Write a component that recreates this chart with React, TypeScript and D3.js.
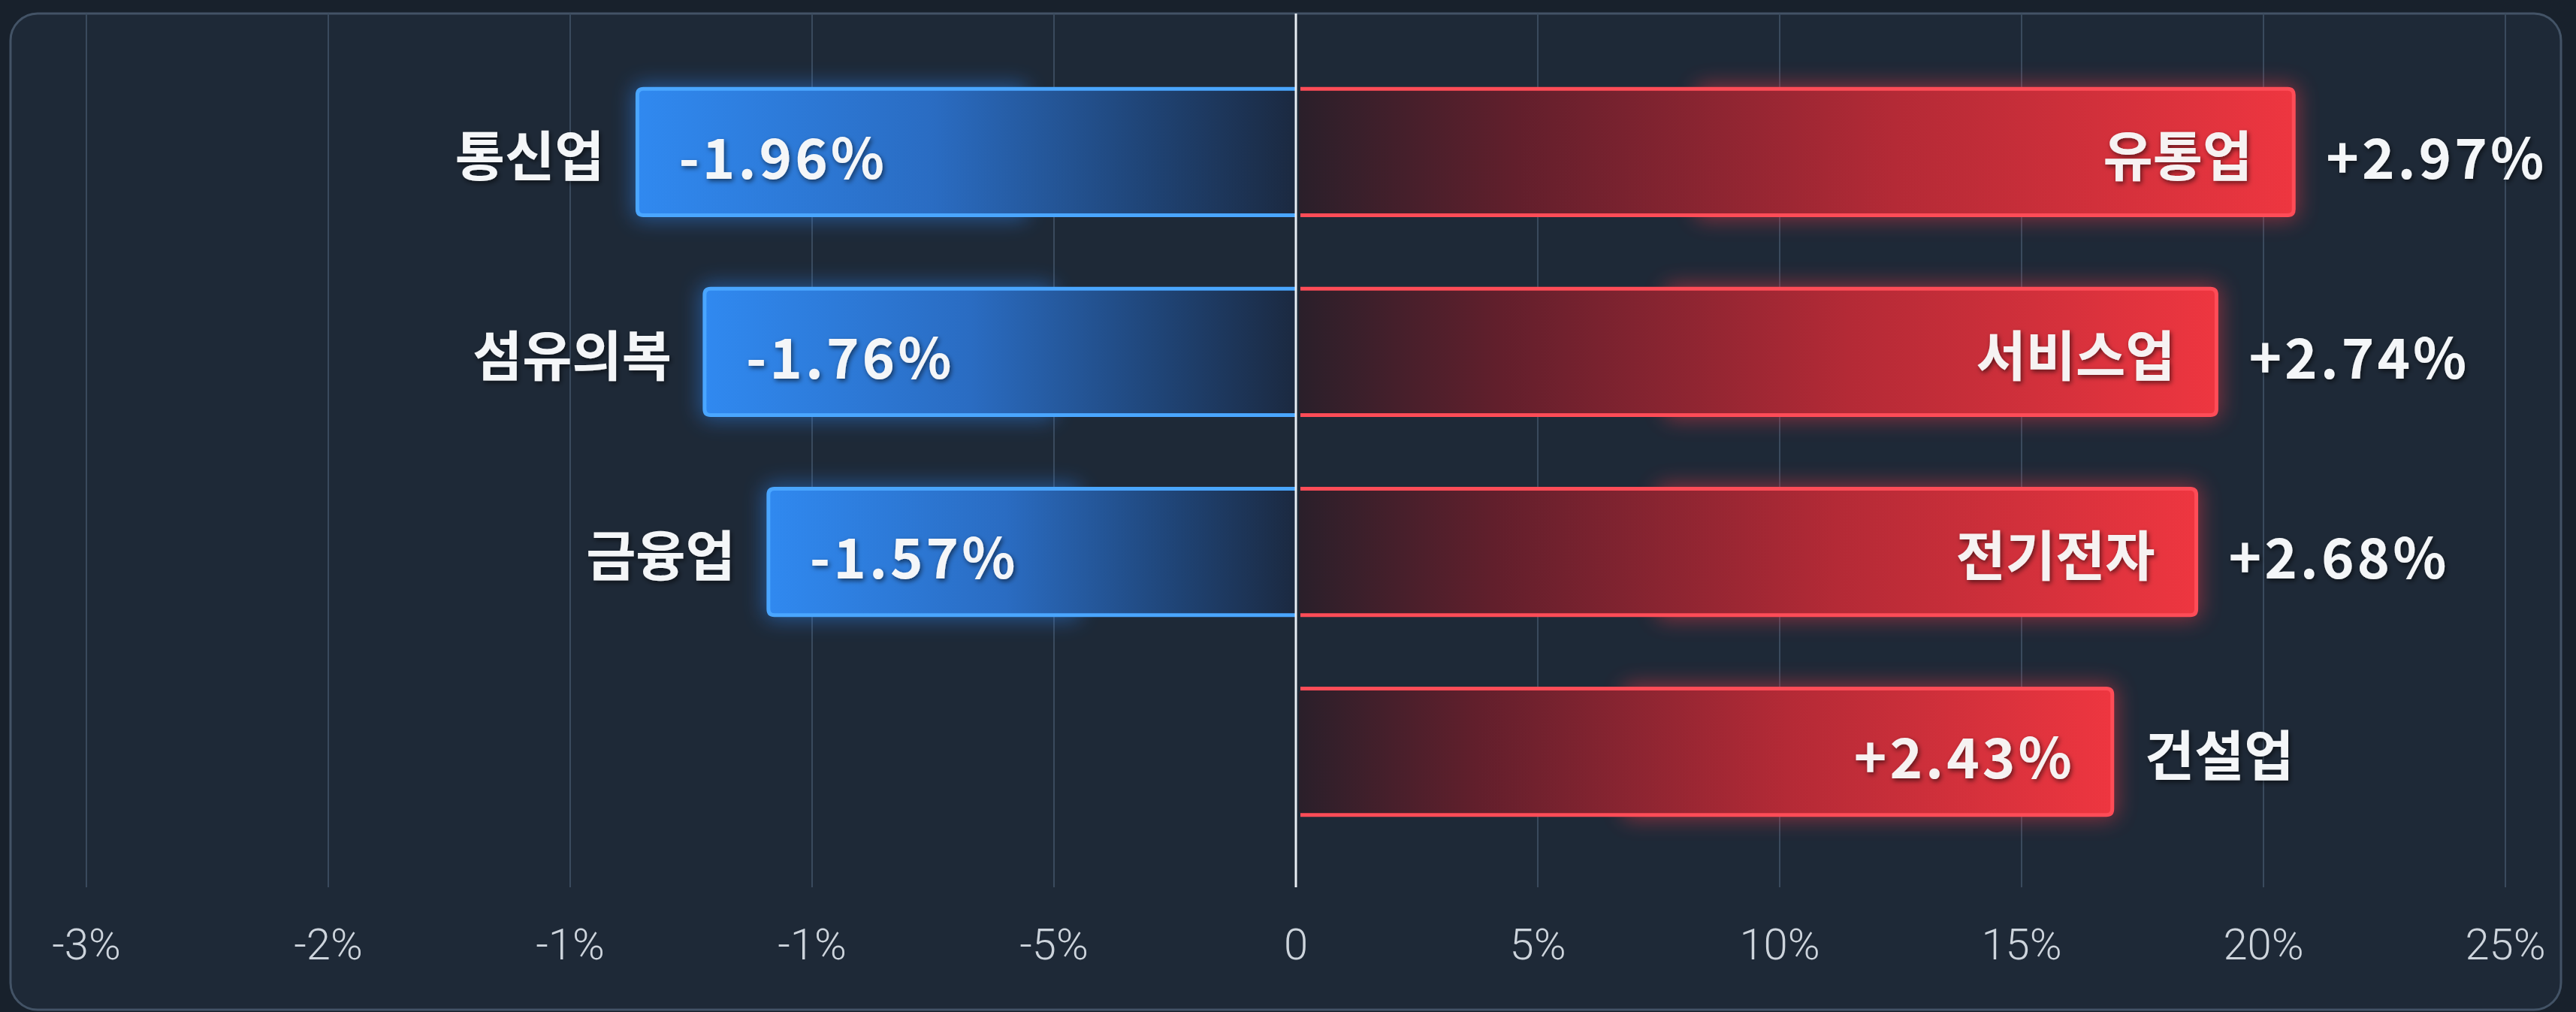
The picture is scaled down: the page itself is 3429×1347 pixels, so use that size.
import React from 'react';
import * as d3 from 'd3';

// sector changes (%)
const negCategories = ['통신업', '섬유의복', '금융업'];
const negValues = [-1.96, -1.76, -1.57];
const posCategories = ['유통업', '서비스업', '전기전자', '건설업'];
const posValues = [2.97, 2.74, 2.68, 2.43];
// axis labels exactly as printed on the original
const tickLabels = ['-3%', '-2%', '-1%', '-1%', '-5%', '0', '5%', '10%', '15%', '20%', '25%'];

const W = 3429;
const H = 1347;

const fmt = (v: number) => (v > 0 ? '+' : '-') + Math.abs(v).toFixed(2) + '%';

// bar outline open on the zero side, rounded on the outer end
const barOutline = (xa: number, xb: number, y: number, h: number, r: number) => {
  // xa = zero side, xb = outer end
  const s = xb > xa ? 1 : -1;
  return `M${xa},${y} L${xb - s * r},${y} Q${xb},${y} ${xb},${y + r} L${xb},${y + h - r} Q${xb},${y + h} ${xb - s * r},${y + h} L${xa},${y + h}`;
};

const App = () => {
  const xScale = d3.scaleLinear().domain([-3.6, 3.6]).range([115, 3335]);
  const tickScale = d3.scalePoint<number>().domain(tickLabels.map((_, i) => i)).range([115, 3335]);
  const yScale = d3
    .scaleBand<number>()
    .domain(d3.range(posCategories.length))
    .range([65, 1138])
    .paddingInner(0.368)
    .paddingOuter(0.2);

  const x0 = xScale(0);
  const bh = yScale.bandwidth();
  const gridTop = 18;
  const gridBottom = 1181;

  const korFont = '"Noto Sans CJK KR", "Noto Sans", sans-serif';

  const valueText = { fontFamily: korFont, fontWeight: 700, fontSize: 74, letterSpacing: 4 };
  const nameText = { fontFamily: korFont, fontWeight: 700, fontSize: 72, letterSpacing: 0 };

  return (
    <svg width={W} height={H} style={{ position: 'absolute', left: 0, top: 0, display: 'block' }}>
      <defs>
        <linearGradient id="blueFill" x1="0" x2="1" y1="0" y2="0">
          <stop offset="0" stopColor="#3089f0" />
          <stop offset="0.45" stopColor="#2a6cc2" />
          <stop offset="0.78" stopColor="#1f4374" />
          <stop offset="1" stopColor="#1b2940" />
        </linearGradient>
        <linearGradient id="redFill" x1="1" x2="0" y1="0" y2="0">
          <stop offset="0" stopColor="#ee3640" />
          <stop offset="0.4" stopColor="#b42a36" />
          <stop offset="0.78" stopColor="#621f2c" />
          <stop offset="1" stopColor="#2a1f2a" />
        </linearGradient>
        <filter id="glow" x="-20%" y="-60%" width="140%" height="220%">
          <feGaussianBlur stdDeviation="14" />
        </filter>
        <filter id="lineGlow" x="-5%" y="-300%" width="110%" height="700%">
          <feGaussianBlur stdDeviation="4" />
        </filter>
        <filter id="shadow" x="-10%" y="-30%" width="120%" height="160%">
          <feDropShadow dx="2" dy="3" stdDeviation="3" floodColor="#000" floodOpacity="0.55" />
        </filter>
      </defs>

      {/* background + panel */}
      <rect x={0} y={0} width={W} height={H} fill="#18212c" />
      <rect x={14} y={18} width={3395} height={1326} rx={36} fill="#1e2937" stroke="#435366" strokeWidth={3} />

      {/* grid lines */}
      {tickLabels.map((_, i) =>
        tickLabels[i] === '0' ? null : (
          <line
            key={'g' + i}
            x1={tickScale(i)}
            x2={tickScale(i)}
            y1={gridTop}
            y2={gridBottom}
            stroke="#3a4a5d"
            strokeWidth={2}
          />
        )
      )}

      {/* negative bars */}
      {negValues.map((v, i) => {
        const x = xScale(v);
        const y = yScale(i)!;
        const w = x0 - x;
        return (
          <g key={'n' + i}>
            <rect x={x - 6} y={y - 6} width={w * 0.6} height={bh + 12} rx={12} fill="#2f8cff" opacity={0.45} filter="url(#glow)" />
            <rect x={x} y={y} width={w} height={bh} rx={8} fill="url(#blueFill)" />
            <line x1={x + 8} x2={x0} y1={y} y2={y} stroke="#5ab4ff" strokeWidth={10} opacity={0.5} filter="url(#lineGlow)" />
            <line x1={x + 8} x2={x0} y1={y + bh} y2={y + bh} stroke="#5ab4ff" strokeWidth={10} opacity={0.5} filter="url(#lineGlow)" />
            <path d={barOutline(x0, x, y, bh, 8)} fill="none" stroke="#4aa6ff" strokeWidth={5} />
            <text
              x={x - 44}
              y={y + bh / 2}
              textAnchor="end"
              dominantBaseline="central"
              {...nameText}
              fill="#f4f6f8"
              filter="url(#shadow)"
            >
              {negCategories[i]}
            </text>
            <text
              x={x + 55}
              y={y + bh / 2 + 3}
              dominantBaseline="central"
              {...valueText}
              fill="#f4f6f8"
              filter="url(#shadow)"
            >
              {fmt(v)}
            </text>
          </g>
        );
      })}

      {/* positive bars */}
      {posValues.map((v, i) => {
        const x = xScale(v);
        const y = yScale(i)!;
        const w = x - x0;
        const last = i === posValues.length - 1;
        const inner = last ? valueText : nameText;
        const outer = last ? nameText : valueText;
        return (
          <g key={'p' + i}>
            <rect x={x0 + w * 0.4} y={y - 6} width={w * 0.6 + 6} height={bh + 12} rx={12} fill="#ff3a46" opacity={0.45} filter="url(#glow)" />
            <rect x={x0 + 4} y={y} width={w - 4} height={bh} rx={8} fill="url(#redFill)" />
            <line x1={x0 + 6} x2={x - 8} y1={y} y2={y} stroke="#ff5a66" strokeWidth={10} opacity={0.5} filter="url(#lineGlow)" />
            <line x1={x0 + 6} x2={x - 8} y1={y + bh} y2={y + bh} stroke="#ff5a66" strokeWidth={10} opacity={0.5} filter="url(#lineGlow)" />
            <path d={barOutline(x0 + 6, x, y, bh, 8)} fill="none" stroke="#ff4c57" strokeWidth={5} />
            <text
              x={x - (last ? 50 : 55)}
              y={y + bh / 2 + (last ? 3 : 0)}
              textAnchor="end"
              dominantBaseline="central"
              {...inner}
              fill="#f6f2f2"
              filter="url(#shadow)"
            >
              {last ? fmt(v) : posCategories[i]}
            </text>
            <text
              x={x + 43}
              y={y + bh / 2 + (last ? 0 : 3)}
              dominantBaseline="central"
              {...outer}
              fill="#f4f6f8"
              filter="url(#shadow)"
            >
              {last ? posCategories[i] : fmt(v)}
            </text>
          </g>
        );
      })}

      {/* zero line */}
      <line x1={x0} x2={x0} y1={gridTop} y2={gridBottom} stroke="#e8eef4" strokeWidth={3} />

      {/* axis labels */}
      {tickLabels.map((t, i) => (
        <text
          key={'t' + i}
          x={tickScale(i)}
          y={1257}
          textAnchor="middle"
          dominantBaseline="central"
          fontFamily="Roboto, sans-serif"
          fontWeight={300}
          fontSize={58}
          fill="#cdd4dc"
        >
          {t}
        </text>
      ))}
    </svg>
  );
};

export default App;
